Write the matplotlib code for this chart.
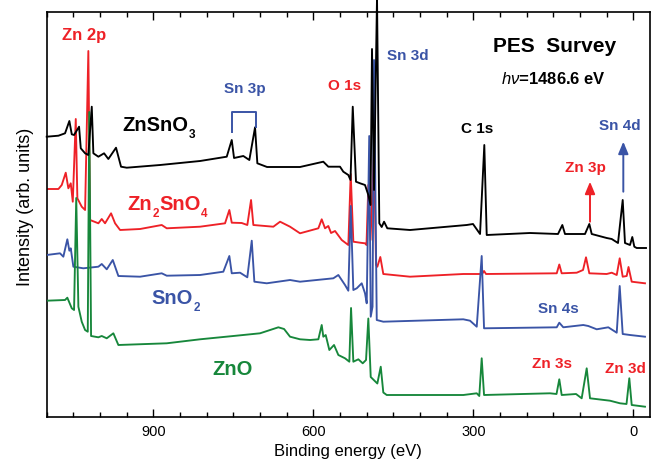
import matplotlib
matplotlib.use('Agg')
import matplotlib.pyplot as plt

plt.rcParams['font.family'] = ['Liberation Sans', 'DejaVu Sans']
plt.rcParams['mathtext.fontset'] = 'custom'
plt.rcParams['mathtext.rm'] = 'Liberation Sans'
plt.rcParams['mathtext.bf'] = 'Liberation Sans:bold'
plt.rcParams['mathtext.it'] = 'Liberation Sans:italic'

# ---------------- data (binding energy in eV, intensity in arb. units incl. offset) -------------
znsno3_e = [1100, 1078, 1065.6, 1057.5, 1053, 1048.7, 1039.3, 1036.1, 1028, 1021.9, 1015.5, 1012.5,
            1003.1, 992.4, 984.4, 970, 960.6, 949.9, 887.4, 812.4, 762.4, 753, 748.7, 731.3, 720,
            709.3, 705, 686.8, 625, 581.3, 571.9, 550, 543.8, 534.4, 530.3, 526.1, 520, 512.4,
            503.1, 496.9, 492.8, 490, 486.2, 480.6, 476.3, 471.8, 467.4, 461.3, 418.7, 312.4,
            300.6, 287.4, 279.4, 274.9, 193.7, 141.2, 133.1, 128.1, 90.6, 82.5, 78, 49.9, 40.5,
            28.7, 19.9, 15.6, 6.2, 1.9, -1.9, -6.4, -23.8]
znsno3_i = [280.3, 281.3, 283.7, 296, 282.7, 282, 290.3, 268.7, 263.7, 262, 310.3, 263.7, 260.3,
            263.7, 258, 269.3, 250.3, 249.3, 252, 256, 260.3, 277, 259, 261, 257, 289.7, 253.7,
            250, 250, 255.3, 250.3, 250.3, 245.3, 242, 237, 310.3, 235.3, 233.7, 232, 222, 212,
            368, 227, 420, 193.7, 190, 195.3, 188.7, 187, 192, 193, 183, 272, 182, 184, 183, 192,
            183, 183, 193, 183, 179, 178, 174, 217, 174, 172, 180, 170.3, 169, 169]

zn2sno4_e = [1100, 1078, 1071.8, 1064.3, 1059.4, 1054.9, 1051.1, 1045.5, 1042.5, 1034.3, 1028,
             1021.9, 1018.7, 1003.1, 996.8, 990.6, 979.3, 971.8, 962.4, 924.9, 884.3, 874.9, 812.4,
             765.6, 757.5, 753, 734.3, 723.8, 716.8, 712.5, 675, 662.4, 643.7, 625, 590.6, 584.3,
             578.1, 571.9, 566.8, 559.3, 546.8, 534.4, 529.9, 525, 512.4, 503.1, 500.3, 496.9,
             492.8, 486.2, 482.4, 480, 474.4, 468.8, 418.7, 318.8, 283.7, 279.9, 276.2, 143.6,
             138.8, 134.3, 106.1, 94.3, 88.7, 82.5, 49.9, 40.5, 31.1, 25.5, 19.9, 12.4, 9, 3, -21.9]
zn2sno4_i = [228, 228, 232, 244.3, 228.7, 233.7, 215.3, 298, 218.7, 210.3, 207, 366, 197, 193.7,
             198, 193.7, 203.7, 193.7, 187, 188, 192, 188.7, 190.3, 193.7, 207, 194.3, 194, 192,
             217, 192, 190.3, 195.3, 190.3, 183.7, 188.7, 197.7, 188.7, 191, 184, 186, 177, 172,
             243, 175.3, 174.3, 173.7, 172, 232, 177, 267, 152, 150.3, 160, 143, 140.3, 143, 143,
             146, 143, 143.7, 152.5, 143.7, 144.3, 147, 159.7, 143.7, 143, 144.3, 142, 158.7,
             140.3, 141, 150, 135.3, 133.7]

sno2_e = [1100, 1075, 1068.8, 1061.3, 1057.5, 1054.9, 1050, 1031.3, 1003.1, 996.8, 987.4, 976.1,
          965.6, 924.9, 884.3, 874.9, 812.4, 768.8, 757.5, 753, 737.4, 723.8, 715.5, 710.6, 687.4,
          643.7, 625, 562.5, 553.1, 540.6, 534.4, 529.9, 525, 518.6, 509.3, 503.1, 499.9, 495.2,
          492.4, 489, 486.2, 481.1, 468.8, 318.8, 306.2, 293.6, 284.3, 279.9, 143.6, 138.8, 131.3,
          93.8, 84.4, 68.6, 46.9, 31.1, 25.5, 19.9, 6.2, -21.9]
sno2_i = [162, 163.7, 160.3, 177.7, 166.3, 168.7, 150.3, 148.7, 150.3, 153, 147.7, 157, 141,
          140.3, 143.7, 141.3, 142, 145.3, 161, 143.7, 144.3, 139.7, 176.3, 135.3, 133.7, 137,
          135.3, 138.7, 142, 132, 126.3, 211, 127, 128.7, 133.7, 123.7, 113.7, 281, 100.3, 110.3,
          357, 97, 95.3, 97.7, 96.3, 90.3, 161, 88.7, 89.7, 94.3, 89.7, 92, 91, 87.7, 89.7, 84.3,
          131, 83, 82, 80.3]

zno_e = [1100, 1065.6, 1061.3, 1053, 1048.7, 1044.6, 1040.6, 1034.3, 1028, 1023, 1020.2, 1016.8,
         1003.1, 996.8, 987.4, 975, 965.6, 874.9, 812.4, 750, 700, 665.6, 654.9, 643.7, 625,
         606.2, 590.6, 584.3, 581.3, 576.8, 570, 561.2, 553.1, 540.6, 532.5, 529.3, 525, 515.6,
         507.4, 501.2, 496.9, 492.4, 480, 473.6, 468.8, 462.4, 318.8, 293.6, 288.8, 284.3, 279.9,
         156.2, 144, 138.8, 134.3, 107.4, 96.8, 87.4, 81.2, 43.7, 24.9, 12.75, 7.5, 3, -21.9]
zno_i = [116.3, 117, 119.3, 108.7, 107, 219, 110.3, 95.3, 87, 85.3, 305, 81, 79.7, 81, 78.7,
         83.7, 72, 73.7, 77.7, 81, 83.7, 89.7, 88, 80.3, 77.7, 77, 77.7, 92, 80.3, 82, 67, 72,
         62, 58.7, 55.3, 109, 55.3, 57.7, 53.7, 57, 98.5, 40, 33.5, 50.3, 24.5, 22, 22, 23.7, 21,
         58.7, 22, 23.7, 23, 37.7, 22, 23, 18.7, 48.7, 18.7, 16.3, 13.7, 13, 38.7, 12, 10.3]

x_major_ticks = [900, 600, 300, 0]

BLACK = '#000000'
RED = '#EE2127'
BLUE = '#3A54A6'
GREEN = '#17873B'

# ---------------- figure ----------------
fig = plt.figure(figsize=(6.58, 4.62), dpi=100)
ax = fig.add_axes([46.7 / 658, 1 - 417 / 462, (650 - 46.7) / 658, (417 - 11.7) / 462])

lw = 1.35
ax.plot(zn2sno4_e, zn2sno4_i, color=RED, lw=lw, zorder=2)
ax.plot(sno2_e, sno2_i, color=BLUE, lw=lw, zorder=3)
ax.plot(zno_e, zno_i, color=GREEN, lw=lw, zorder=3.5)
ax.plot(znsno3_e, znsno3_i, color=BLACK, lw=lw, zorder=4, clip_on=False)

ax.set_xlim(1100, -31.3)
ax.set_ylim(0, 405.3)
ax.set_xticks(x_major_ticks)
ax.set_xticklabels([str(t) for t in x_major_ticks])
ax.xaxis.set_minor_locator(matplotlib.ticker.MultipleLocator(50))
ax.set_yticks([])
ax.tick_params(axis='x', which='both', direction='in', top=True, bottom=True,
               labelsize=10.5, pad=6, width=1.0)
ax.tick_params(axis='x', which='major', length=5.5)
ax.tick_params(axis='x', which='minor', length=3.5)
for s in ax.spines.values():
    s.set_linewidth(1.2)

ax.set_xlabel('Binding energy (eV)', fontsize=12)
ax.xaxis.set_label_coords(0.5, -0.066)
ax.set_ylabel('Intensity (arb. units)', fontsize=13)
ax.yaxis.set_label_coords(-0.021, 0.519)

# ---------------- annotations ----------------
bold = dict(fontweight='bold', ha='center', va='baseline')
ax.text(1030, 377, 'Zn 2p', color=RED, fontsize=12, **bold)
ax.text(728, 323.7, 'Sn 3p', color=BLUE, fontsize=11, **bold)
ax.text(542, 327, 'O 1s', color=RED, fontsize=11, **bold)
ax.text(422, 357, 'Sn 3d', color=BLUE, fontsize=11, **bold)
ax.text(147, 365.3, 'PES  Survey', color=BLACK, fontsize=15, **bold)
ax.text(150, 333, r'$\mathit{h\nu}$=1486.6 eV', color=BLACK, fontsize=12, **bold)
ax.text(292, 283.7, 'C 1s', color=BLACK, fontsize=11, **bold)
ax.text(25, 287, 'Sn 4d', color=BLUE, fontsize=11, **bold)
ax.text(89, 245, 'Zn 3p', color=RED, fontsize=11, **bold)
ax.text(140, 104.3, 'Sn 4s', color=BLUE, fontsize=11, **bold)
ax.text(153, 49, 'Zn 3s', color=RED, fontsize=11, **bold)
ax.text(14.6, 43.7, 'Zn 3d', color=RED, fontsize=11, **bold)

# compound labels with small, lowered subscripts
renderer = fig.canvas.get_renderer()


def compound(x, y, parts, color, size=14.5, sub_size=8.5, drop=7):
    """parts: list of (text, is_sub)."""
    x0, y0 = ax.transData.transform((x, y))
    for txt, is_sub in parts:
        t = fig.text(x0 / fig.dpi / fig.get_figwidth(), 0, txt, color=color,
                     fontweight='bold', fontsize=sub_size if is_sub else size,
                     ha='left', va='baseline')
        yy = y0 - (drop if is_sub else 0)
        t.set_position((x0 / (fig.dpi * fig.get_figwidth()), yy / (fig.dpi * fig.get_figheight())))
        bb = t.get_window_extent(renderer)
        x0 = bb.x1 + (0.5 if is_sub else 0)


compound(958, 286, [('ZnSnO', False), ('3', True)], BLACK)
compound(948, 207, [('Zn', False), ('2', True), ('SnO', False), ('4', True)], RED)
compound(903, 113, [('SnO', False), ('2', True)], BLUE)
compound(790, 42, [('ZnO', False)], GREEN)

# Sn 3p bracket
ax.plot([753, 753, 707.5, 707.5], [285.3, 304.7, 304.7, 290.3], color=BLUE, lw=1.4, zorder=5)

# arrows
ax.annotate('', xy=(81.2, 235.3), xytext=(81.2, 195.3),
            arrowprops=dict(arrowstyle='-|>,head_length=0.6,head_width=0.25', color=RED,
                            lw=1.4, mutation_scale=12, shrinkA=0, shrinkB=0))
ax.annotate('', xy=(18.75, 275.3), xytext=(18.75, 225.3),
            arrowprops=dict(arrowstyle='-|>,head_length=0.6,head_width=0.25', color=BLUE,
                            lw=1.4, mutation_scale=12, shrinkA=0, shrinkB=0))

fig.savefig('out.png', dpi=100)
